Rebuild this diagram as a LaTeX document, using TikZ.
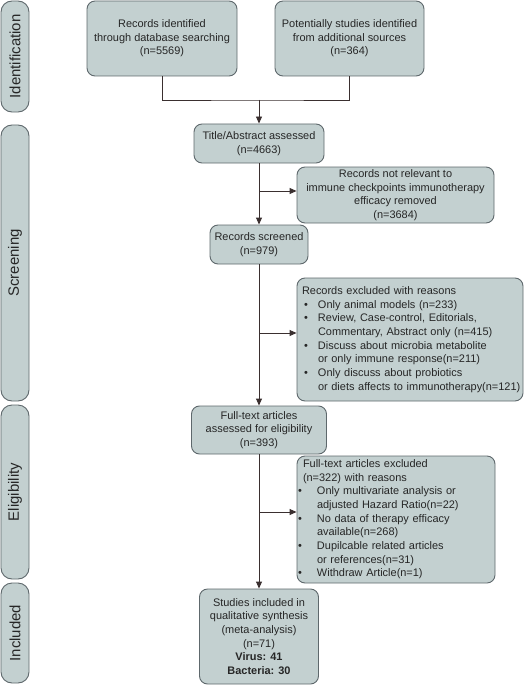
\documentclass[tikz,border=0pt]{standalone}
\usepackage{fontspec}
\setmainfont{Liberation Sans}
\usetikzlibrary{arrows.meta}
\definecolor{boxfill}{HTML}{C3D0D0}
\definecolor{boxline}{HTML}{5E686C}
\definecolor{linkcol}{HTML}{3A2F2F}
\newcommand{\boxfont}{\fontsize{11}{13.7}\selectfont}
\newcommand{\bandfont}{\fontsize{15}{17}\selectfont}
\newcommand{\itm}[2]{\hspace*{#1}\makebox[#2][l]{\textbullet}}
\begin{document}
\begin{tikzpicture}[x=1bp,y=-1bp,
    box/.style={draw=boxline,fill=boxfill,line width=0.9bp,rounded corners=8bp,
      inner sep=0pt,align=center,font=\boxfont,text=black!85},
    listbox/.style={box,align=left,text width=#1,minimum width=#1},
    band/.style={draw=boxline,fill=boxfill,line width=0.9bp,rounded corners=11bp,
      inner sep=0pt,rotate=90,minimum height=28bp,font=\bandfont,text=black!85},
    link/.style={draw=linkcol,line width=0.9bp},
    arrow/.style={link,-{Triangle[length=7bp,width=6bp]}}]
  \useasboundingbox (0,0) rectangle (525,685);
  % phase bands
  \node[band,minimum width=111bp] (ident) at (15,56.5) {Identification};
  \node[band,minimum width=276bp] (screen) at (15,263) {Screening};
  \node[band,minimum width=174bp] (elig) at (15,492) {Eligibility};
  \node[band,minimum width=100bp] (incl) at (15,633) {Included};
  % boxes
  \node[box,minimum width=150bp,minimum height=75bp] (src1) at (162,38.5)
    {Records identified\\through database searching\\(n=5569)};
  \node[box,minimum width=149bp,minimum height=75bp] (src2) at (349.5,38.5)
    {Potentially studies identified\\from additional sources\\(n=364)};
  \node[box,minimum width=130bp,minimum height=39bp] (title) at (259,143.5)
    {Title/Abstract assessed\\(n=4663)};
  \node[box,minimum width=197bp,minimum height=56bp] (notrel) at (395.5,195)
    {Records not relevant to\\immune checkpoints immunotherapy\\efficacy removed\\(n=3684)};
  \node[box,minimum width=98bp,minimum height=39bp] (screened) at (259,244.5)
    {Records screened\\(n=979)};
  \node[listbox=226bp,minimum height=123bp] (excl1) at (410,339.5)
    {\begin{tabular}{@{}l@{}}
     \hspace*{5bp}Records excluded with reasons\\
     \itm{7bp}{14bp}Only animal models (n=233)\\
     \itm{7bp}{14bp}Review, Case-control, Editorials,\\
     \hspace*{21bp}Commentary, Abstract only (n=415)\\
     \itm{7bp}{14bp}Discuss about microbia metabolite\\
     \hspace*{21bp}or only immune response(n=211)\\
     \itm{7bp}{14bp}Only discuss about probiotics\\
     \hspace*{21bp}or diets affects to immunotherapy(n=121)
     \end{tabular}};
  \node[box,minimum width=135bp,minimum height=48bp] (fulltext) at (259,430)
    {Full-text articles\\assessed for eligibility\\(n=393)};
  \node[listbox=198bp,minimum height=127bp] (excl2) at (396,519.5)
    {\begin{tabular}{@{}l@{}}
     \hspace*{6bp}Full-text articles excluded\\
     \hspace*{6bp}(n=322) with reasons\\
     \itm{1bp}{19bp}Only multivariate analysis or\\
     \hspace*{20bp}adjusted Hazard Ratio(n=22)\\
     \itm{1bp}{19bp}No data of therapy efficacy\\
     \hspace*{20bp}available(n=268)\\
     \itm{1bp}{19bp}Dupilcable related articles\\
     \hspace*{20bp}or references(n=31)\\
     \itm{1bp}{19bp}Withdraw Article(n=1)
     \end{tabular}};
  \node[box,minimum width=119bp,minimum height=95bp] (studies) at (259,636.5)
    {Studies included in\\qualitative synthesis\\(meta-analysis)\\(n=71)\\
     \textbf{Virus: 41}\\\textbf{Bacteria: 30}};
  % connectors
  \coordinate (join) at (259,100);
  \coordinate (b1) at (259,191);
  \coordinate (b2) at (259,333);
  \coordinate (b3) at (259,512);
  \draw[link] (src1.south) |- (join) -| (src2.south);
  \draw[arrow] (join) -- (title.north);
  \draw[arrow] (title.south) -- (screened.north);
  \draw[arrow] (screened.south) -- (fulltext.north);
  \draw[arrow] (fulltext.south) -- (studies.north);
  \draw[arrow] (b1) -- (b1 -| notrel.west);
  \draw[arrow] (b2) -- (b2 -| excl1.west);
  \draw[arrow] (b3) -- (b3 -| excl2.west);
\end{tikzpicture}
\end{document}
